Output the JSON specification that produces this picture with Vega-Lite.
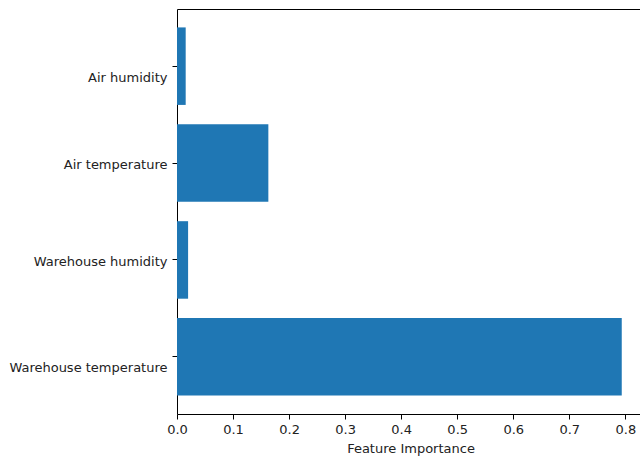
{
  "$schema": "https://vega.github.io/schema/vega-lite/v6.json",
  "autosize": {"type": "none"},
  "padding": {"left": 177, "top": 9, "right": 0, "bottom": 49},
  "width": 467,
  "height": 405,
  "background": "white",
  "config": {
    "view": {"stroke": "black", "strokeWidth": 1},
    "axis": {
      "domain": false,
      "grid": false,
      "ticks": true,
      "tickColor": "black",
      "tickSize": 5,
      "tickWidth": 1,
      "labelColor": "#222222",
      "labelFont": "DejaVu Sans",
      "labelFontSize": 13,
      "labelFlush": false,
      "titleFont": "DejaVu Sans",
      "titleFontSize": 13,
      "titleFontWeight": "normal",
      "titleColor": "#222222"
    }
  },
  "data": {
    "values": [
      {"feature": "Air humidity", "importance": 0.0155},
      {"feature": "Air temperature", "importance": 0.163},
      {"feature": "Warehouse humidity", "importance": 0.0198},
      {"feature": "Warehouse temperature", "importance": 0.7936}
    ]
  },
  "mark": {"type": "bar", "color": "#1f77b4"},
  "encoding": {
    "y": {
      "field": "feature",
      "type": "nominal",
      "sort": ["Air humidity", "Air temperature", "Warehouse humidity", "Warehouse temperature"],
      "scale": {"paddingInner": 0.2, "paddingOuter": 0.19},
      "axis": {
        "title": null,
        "labelPadding": 5,
        "labelOffset": {"expr": "datum.value == 'Air humidity' ? 12 : datum.value == 'Warehouse temperature' ? 11 : 2"}
      }
    },
    "x": {
      "field": "importance",
      "type": "quantitative",
      "scale": {"domain": [0, 0.8333], "nice": false},
      "axis": {"title": "Feature Importance", "values": [0, 0.1, 0.2, 0.3, 0.4, 0.5, 0.6, 0.7, 0.8], "format": ".1f", "labelPadding": 4, "titlePadding": 6}
    }
  }
}
